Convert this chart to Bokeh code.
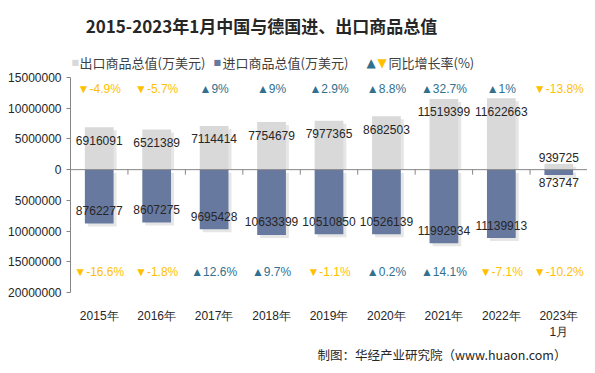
from bokeh.plotting import figure
from bokeh.models import Range1d, FixedTicker, Label, ColumnDataSource, Span, Title
from bokeh.core.properties import value
from bokeh.embed import file_html
from bokeh.resources import INLINE

# ---- data ----
years = ["2015年", "2016年", "2017年", "2018年", "2019年", "2020年", "2021年", "2022年", "2023年\n1月"]
exports = [6916091, 6521389, 7114414, 7754679, 7977365, 8682503, 11519399, 11622663, 939725]
imports = [8762277, 8607275, 9695428, 10633399, 10510850, 10526139, 11992934, 11139913, 873747]
export_growth = [-4.9, -5.7, 9, 9, 2.9, 8.8, 32.7, 1, -13.8]
import_growth = [-16.6, -1.8, 12.6, 9.7, -1.1, 0.2, 14.1, -7.1, -10.2]
y_ticks = [-20000000, -15000000, -10000000, -5000000, 0, 5000000, 10000000, 15000000]

# ---- layout (pixel coords of the picture) ----
W, H = 587, 365
FL, FR, FT, FB = 70, 587, 77, 292      # value-axis area
YMIN, YMAX = -20000000, 15000000
XMIN, XMAX = -0.5, len(years) - 0.5
PX_PER_Y = (FB - FT) / (YMAX - YMIN)
Y_TOP = YMAX + FT / PX_PER_Y           # frame extends to the top of the canvas

def dx(px):
    return XMIN + (px - FL) / (FR - FL) * (XMAX - XMIN)

def dy(py):
    return YMAX - (py - FT) / PX_PER_Y

C_EXP = "#d9d9d9"
C_IMP = "#67799f"
C_UP = "#31708f"
C_DOWN = "#ffc000"
C_AXIS = "#868686"
C_TEXT = "#262626"

p = figure(width=W, height=H, x_range=Range1d(XMIN, XMAX), y_range=Range1d(YMIN, Y_TOP),
           output_backend="svg", toolbar_location=None,
           min_border_left=FL, min_border_right=W - FR,
           min_border_top=0, min_border_bottom=H - FB)
p.title.visible = False
p.outline_line_color = None
p.grid.visible = False
p.background_fill_color = "white"
p.border_fill_color = "white"

xs = list(range(len(years)))
shx = 3 / ((FR - FL) / len(years))
shy = 3 / PX_PER_Y

src = ColumnDataSource(dict(
    x=xs, xs=[x + shx for x in xs],
    exp=exports, imp=[-v for v in imports],
    exp_sh=[max(v - shy, 0) for v in exports],
    imp_sh=[-v - shy for v in imports],
))

p.vbar(x="xs", top="exp_sh", bottom=0, width=0.5, source=src, fill_color="#808080", fill_alpha=0.2, line_color=None)
p.vbar(x="xs", top=-shy, bottom="imp_sh", width=0.5, source=src, fill_color="#808080", fill_alpha=0.2, line_color=None)
p.vbar(x="x", top="exp", bottom=0, width=0.5, source=src, fill_color=C_EXP, line_color=None)
p.vbar(x="x", top=0, bottom="imp", width=0.5, source=src, fill_color=C_IMP, line_color=None)

p.add_layout(Span(location=0, dimension="width", line_color=C_AXIS, line_width=1))
bounds = [i - 0.5 for i in range(len(years) + 1)]
p.segment(x0=bounds, y0=[0] * len(bounds), x1=bounds, y1=[-5 / PX_PER_Y] * len(bounds), line_color=C_AXIS, line_width=1)

exp_off = [13 if v * PX_PER_Y > 26 else -6 for v in exports]
imp_off = [-13 if v * PX_PER_Y > 26 else 7 for v in imports]
lab = ColumnDataSource(dict(
    x=xs, ye=exports, yi=[-v for v in imports],
    te=[str(v) for v in exports], ti=[str(v) for v in imports],
    oe=exp_off, oi=imp_off,
))
p.text(x="x", y="ye", text="te", y_offset="oe", source=lab, text_align="center", text_baseline="middle",
       text_font=value("Liberation Sans"), text_font_size="12px", text_color=C_TEXT)
p.text(x="x", y="yi", text="ti", y_offset="oi", source=lab, text_align="center", text_baseline="middle",
       text_font=value("Liberation Sans"), text_font_size="12px", text_color=C_TEXT)

def gtxt(g):
    return ("▲" if g >= 0 else "▼") + f"{g:g}%"

gsrc = ColumnDataSource(dict(
    x=xs,
    ye=[dy(88)] * len(xs), yi=[dy(271)] * len(xs),
    te=[gtxt(g) for g in export_growth], ti=[gtxt(g) for g in import_growth],
    ce=[C_UP if g >= 0 else C_DOWN for g in export_growth],
    ci=[C_UP if g >= 0 else C_DOWN for g in import_growth],
))
p.text(x="x", y="ye", text="te", text_color="ce", source=gsrc, text_align="center", text_baseline="middle",
       text_font=value("Liberation Sans"), text_font_size="12px")
p.text(x="x", y="yi", text="ti", text_color="ci", source=gsrc, text_align="center", text_baseline="middle",
       text_font=value("Liberation Sans"), text_font_size="12px")

p.xaxis.ticker = FixedTicker(ticks=xs)
p.xaxis.major_label_overrides = {i: years[i] for i in xs}
p.xaxis.axis_line_color = None
p.xaxis.major_tick_line_color = None
p.xaxis.minor_tick_line_color = None
p.xaxis.major_tick_out = 0
p.xaxis.major_label_standoff = 16
p.xaxis.major_label_text_font = "Liberation Sans"
p.xaxis.major_label_text_font_size = "12px"
p.xaxis.major_label_text_color = C_TEXT

p.yaxis.ticker = FixedTicker(ticks=y_ticks)
p.yaxis.bounds = (YMIN, YMAX)
p.yaxis.major_label_overrides = {t: str(abs(t)) for t in y_ticks}
p.yaxis.axis_line_color = C_AXIS
p.yaxis.major_tick_line_color = C_AXIS
p.yaxis.major_tick_out = 4
p.yaxis.major_tick_in = 0
p.yaxis.minor_tick_line_color = None
p.yaxis.major_label_standoff = 5
p.yaxis.major_label_text_font = "Liberation Sans"
p.yaxis.major_label_text_font_size = "12px"
p.yaxis.major_label_text_color = C_TEXT

# texts inside the (extended) frame
def lbl(px, py, t, color, size="13px", font="Noto Sans CJK SC", align="left", style="normal"):
    p.add_layout(Label(x=dx(px), y=dy(py), text=t, text_align=align, text_baseline="middle",
                       text_font=font, text_font_size=size, text_font_style=style, text_color=color))

# title
lbl(261, 25, "2015-2023年1月中国与德国进、出口商品总值", C_TEXT, "17px", "Noto Sans CJK SC", "center", "bold")

# legend
lbl(71, 62, "■", C_EXP, "8px", "DejaVu Sans")
lbl(79, 62, "出口商品总值(万美元)", "#404040")
lbl(213, 62, "■", C_IMP, "8px", "DejaVu Sans")
lbl(222, 62, "进口商品总值(万美元)", "#404040")
lbl(366, 62, "▲", C_UP, "12px", "DejaVu Sans")
lbl(377, 62, "▼", C_DOWN, "12px", "DejaVu Sans")
lbl(388, 62, "同比增长率(%)", "#404040")

# source (left-aligned at the frame, shifted right)
p.add_layout(Title(text="制图：华经产业研究院（www.huaon.com）", align="left", offset=317 - FL,
                   text_font="Noto Sans CJK SC", text_font_style="normal", text_font_size="12.5px",
                   text_color=C_TEXT, standoff=0), "below")

open("out.html", "w").write(file_html(p, INLINE))
